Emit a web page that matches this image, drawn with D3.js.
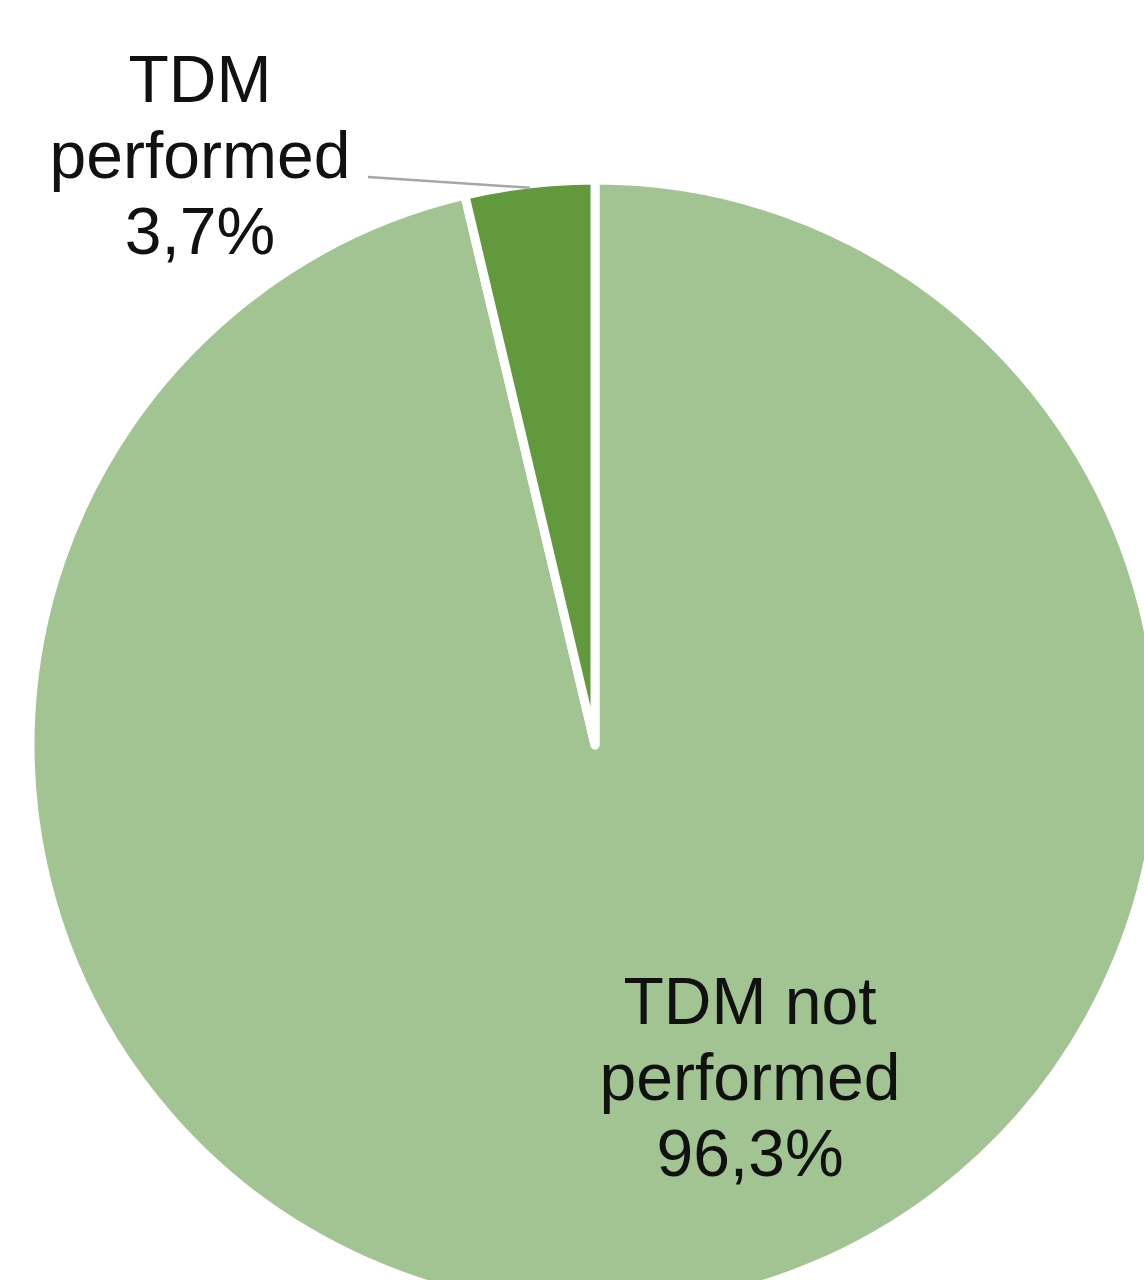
<!DOCTYPE html>
<html>
<head>
<meta charset="utf-8">
<script src="https://cdn.jsdelivr.net/npm/d3@7"></script>
<style>
  html, body { margin: 0; padding: 0; background: #fff; }
  svg { display: block; }
  text { font-family: "Liberation Sans", Arial, sans-serif; fill: #111; }
</style>
</head>
<body>
<svg width="1144" height="1280"></svg>
<script>
// dados do gráfico
var categorias = ["TDM not performed", "TDM performed"];
var linhasRotulo = [["TDM not", "performed"], ["TDM", "performed"]];
var valores = [96.3, 3.7];
var cores = ["#a2c492", "#62993d"];

var svg = d3.select("svg");
const cx = 595, cy = 745, raio = 565,
      tamFonte = 66, alturaLinha = 76;

var pie = d3.pie().sort(null).value(function(d){ return d; });
var arcos = pie(valores);
var arco = d3.arc().innerRadius(0).outerRadius(raio);

var g = svg.append("g").attr("transform", "translate(" + cx + "," + cy + ")");

g.selectAll("path")
  .data(arcos)
  .enter().append("path")
    .attr("d", arco)
    .attr("fill", function(d, i){ return cores[i]; })
    .attr("stroke", "#fff")
    .attr("stroke-width", 9)
    .attr("stroke-linejoin", "round");

// posição dos rótulos em relação ao centro (linha do meio) - estilo excel
var posRotulo = [
  { x: 155, y: 355 },   // dentro da fatia grande
  { x: -395, y: -567 }  // fora, com linha de chamada
];

function fmt(v) { return v.toFixed(1).replace(".", ",") + "%"; }

arcos.forEach(function(d, i) {
  var linhas = linhasRotulo[i].concat([fmt(d.value)]);
  var t = g.append("text")
    .attr("text-anchor", "middle")
    .attr("font-size", tamFonte);
  linhas.forEach(function(l, k) {
    t.append("tspan")
      .attr("x", posRotulo[i].x)
      .attr("y", posRotulo[i].y + (k - (linhas.length - 1) / 2) * alturaLinha)
      .text(l);
  });
});

// linha de chamada da fatia pequena
var pequena = arcos[1];
var meio = (pequena.startAngle + pequena.endAngle) / 2;
var fimX = (raio - 4) * Math.sin(meio), fimY = -(raio - 4) * Math.cos(meio);
g.append("line")
  .attr("x1", 368 - cx).attr("y1", 177 - cy)
  .attr("x2", fimX).attr("y2", fimY)
  .attr("stroke", "#a6a6a6")
  .attr("stroke-width", 2.5);
</script>
</body>
</html>
